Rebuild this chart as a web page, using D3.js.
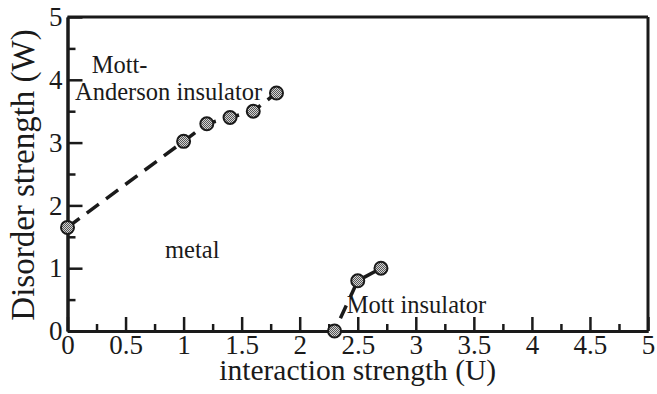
<!DOCTYPE html>
<html>
<head>
<meta charset="utf-8">
<script src="https://cdn.jsdelivr.net/npm/d3@7/dist/d3.min.js"></script>
<style>
  html, body { margin: 0; padding: 0; background: #fff; }
  svg text { font-family: "Liberation Serif", "Times New Roman", serif !important; }
</style>
</head>
<body>
<svg id="chart" width="657" height="394"></svg>
<script>
// Phase boundaries: interaction strength U vs disorder strength W
const mottAndersonU = [0, 1.0, 1.2, 1.4, 1.6, 1.8];
const mottAndersonW = [1.65, 3.02, 3.3, 3.4, 3.5, 3.79];
const mottU = [2.3, 2.5, 2.7];
const mottW = [0, 0.8, 1.0];

const xMajorTicks = [0, 0.5, 1, 1.5, 2, 2.5, 3, 3.5, 4, 4.5, 5];
const xTickLabels = ["0", "0.5", "1", "1.5", "2", "2.5", "3", "3.5", "4", "4.5", "5"];
const xMinorTicks = [0.25, 0.75, 1.25, 1.75, 2.25, 2.75, 3.25, 3.75, 4.25, 4.75];
const yMajorTicks = [0, 1, 2, 3, 4, 5];
const yTickLabels = ["0", "1", "2", "3", "4", "5"];
const yMinorTicks = [0.5, 1.5, 2.5, 3.5, 4.5];

// Region names, anchored in (U, W) coordinates
const regionNames = ["Mott-", "Anderson insulator", "metal", "Mott insulator"];
const regionU = [0.208, 0.065, 0.84, 2.405];
const regionW = [4.11, 3.68, 1.16, 0.29];

const width = 657, height = 394;
const margin = { left: 67.5, right: 9, top: 17, bottom: 63 };

const svg = d3.select("#chart");
const x = d3.scaleLinear().domain([0, 5]).range([margin.left, width - margin.right]);
const y = d3.scaleLinear().domain([0, 5]).range([height - margin.bottom, margin.top]);

const ink = "#1a1a1a";

// Stippled grey fill for the markers
const defs = svg.append("defs");
const pat = defs.append("pattern")
  .attr("id", "stipple").attr("patternUnits", "userSpaceOnUse")
  .attr("width", 2).attr("height", 2);
pat.append("rect").attr("width", 2).attr("height", 2).attr("fill", "#d4d4d4");
pat.append("rect").attr("x", 0).attr("y", 0).attr("width", 1).attr("height", 1).attr("fill", "#555");
pat.append("rect").attr("x", 1).attr("y", 1).attr("width", 1).attr("height", 1).attr("fill", "#555");

// Frame: top and right edges
svg.append("line")
  .attr("x1", x(0)).attr("x2", x(5)).attr("y1", y(5)).attr("y2", y(5))
  .attr("stroke", ink).attr("stroke-width", 3);
svg.append("line")
  .attr("x1", x(5)).attr("x2", x(5)).attr("y1", y(5)).attr("y2", y(0))
  .attr("stroke", ink).attr("stroke-width", 3);

function styleAxis(g) {
  g.attr("font-family", null).attr("font-size", 27);
  g.select(".domain").attr("stroke", ink).attr("stroke-width", 3);
  g.selectAll(".tick line").attr("stroke", ink).attr("stroke-width", 2.5);
  g.selectAll(".tick text").attr("fill", ink).attr("font-size", 27);
}

// X axis: labelled major ticks plus minor ticks, all pointing inward
const xMinor = svg.append("g")
  .attr("transform", `translate(0,${y(0)})`)
  .call(d3.axisBottom(x).tickValues(xMinorTicks).tickSize(-7).tickSizeOuter(0).tickFormat(""));
styleAxis(xMinor);
const xMajor = svg.append("g")
  .attr("transform", `translate(0,${y(0)})`)
  .call(d3.axisBottom(x).tickValues(xMajorTicks).tickSize(-14).tickSizeOuter(0).tickPadding(4)
    .tickFormat((d, i) => xTickLabels[i]));
styleAxis(xMajor);
xMajor.selectAll(".tick text").attr("dy", "0.71em");

// Y axis
const yMinor = svg.append("g")
  .attr("transform", `translate(${x(0)},0)`)
  .call(d3.axisLeft(y).tickValues(yMinorTicks).tickSize(-8).tickSizeOuter(0).tickFormat(""));
styleAxis(yMinor);
const yMajor = svg.append("g")
  .attr("transform", `translate(${x(0)},0)`)
  .call(d3.axisLeft(y).tickValues(yMajorTicks).tickSize(-15).tickSizeOuter(0).tickPadding(5)
    .tickFormat((d, i) => yTickLabels[i]));
styleAxis(yMajor);

// Axis titles
svg.append("text")
  .attr("x", (x(0) + x(5)) / 2).attr("y", 380)
  .attr("text-anchor", "middle")
  .attr("font-size", 29.5).attr("fill", ink)
  .text("interaction strength (U)");
svg.append("text")
  .attr("transform", `translate(34,${(y(0) + y(5)) / 2 + 1}) rotate(-90)`)
  .attr("text-anchor", "middle")
  .attr("font-size", 33).attr("fill", ink)
  .text("Disorder strength (W)");

// Region names
svg.append("g").selectAll("text")
  .data(regionNames)
  .join("text")
  .attr("x", (d, i) => x(regionU[i]))
  .attr("y", (d, i) => y(regionW[i]))
  .attr("font-size", 24.5).attr("fill", ink)
  .text(d => d);

// Boundary lines and markers
const line = d3.line().x(d => x(d[0])).y(d => y(d[1]));
const series = [
  { pts: d3.zip(mottAndersonU, mottAndersonW), dash: "15 9", offset: 0 },
  { pts: d3.zip(mottU, mottW), dash: "14 10", offset: 10 }
];

svg.append("g").selectAll("path")
  .data(series)
  .join("path")
  .attr("d", d => line(d.pts))
  .attr("fill", "none")
  .attr("stroke", ink)
  .attr("stroke-width", 3.5)
  .attr("stroke-dasharray", d => d.dash)
  .attr("stroke-dashoffset", d => d.offset);

svg.append("g").selectAll("circle")
  .data(series.flatMap(s => s.pts))
  .join("circle")
  .attr("cx", d => x(d[0]))
  .attr("cy", d => y(d[1]))
  .attr("r", 6.5)
  .attr("fill", "url(#stipple)")
  .attr("stroke", ink)
  .attr("stroke-width", 2);
</script>
</body>
</html>
